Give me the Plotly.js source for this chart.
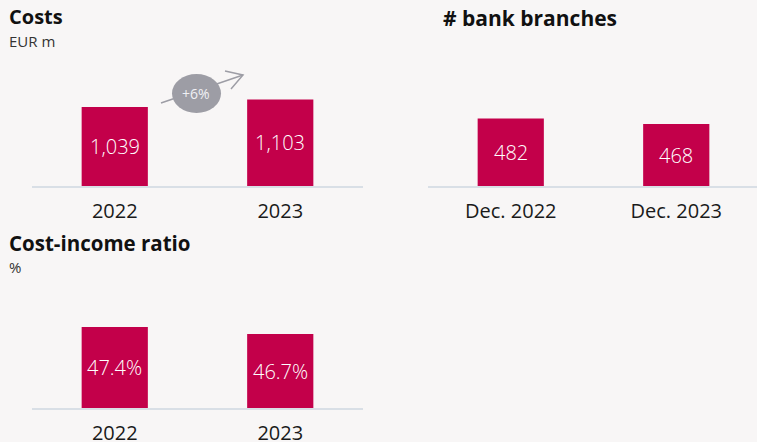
<!DOCTYPE html>
<html>
<head>
<meta charset="utf-8">
<script src="https://cdn.plot.ly/plotly-3.0.1.min.js"></script>
<style>html,body{margin:0;padding:0;background:#f8f6f6;}#chart{width:757px;height:442px;}</style>
</head>
<body>
<div id="chart"></div>
<script>
// ---- data ----
const costYears = ['2022', '2023'];
const costValues = [1039, 1103];
const costChange = '+6%';
const branchDates = ['Dec. 2022', 'Dec. 2023'];
const branchValues = [482, 468];
const cirYears = ['2022', '2023'];
const cirValues = [47.4, 46.7];

// ---- style ----
const W = 757, H = 442;
const BAR = '#c3004a';
const GREY = '#9d9da5';
const FONT = 'Open Sans, Noto Sans, sans-serif';
const px = x => x / W;
const py = y => 1 - y / H;

// axis starts (truncated value axes as in the reference)
const costRange = [365, 1440];
const branchRange = [311.5, 630];
const cirRange = [39.3, 51.1];

function barTrace(x, y, xa, ya) {
  return {type: 'bar', x: x, y: y, xaxis: xa, yaxis: ya, width: 0.4,
    marker: {color: BAR, line: {width: 0}}, textposition: 'none', hoverinfo: 'skip'};
}
const data = [
  barTrace(costYears, costValues, 'x', 'y'),
  barTrace(branchDates, branchValues, 'x2', 'y2'),
  barTrace(cirYears, cirValues, 'x3', 'y3')
];

function xAxis(domain, range, anchor) {
  return {domain: domain, range: range, anchor: anchor, type: 'category',
    showline: true, linecolor: '#d9dfe6', linewidth: 1.5, ticks: '', ticklabelstandoff: 6,
    showgrid: false, zeroline: false, fixedrange: true,
    tickfont: {family: FONT, size: 20, color: '#1a1a1a'}};
}
function yAxis(domain, range, anchor) {
  return {domain: domain, range: range, anchor: anchor, visible: false, fixedrange: true};
}

const annotations = [];
function label(text, x, y, size, bold, color) {
  annotations.push({xref: 'paper', yref: 'paper', x: px(x), y: py(y), xanchor: 'left', yanchor: 'middle',
    borderpad: 0, text: text, showarrow: false,
    font: {family: FONT, size: size, color: color || '#111', weight: bold ? 700 : 400}});
}
label('Costs', 8, 17, 20, true);
label('EUR m', 8, 41, 15, false, '#333');
label('# bank branches', 442, 18, 21, true);
label('Cost-income ratio', 8, 243, 20.5, true);
label('%', 8, 267, 15, false, '#333');

function barLabels(xs, ys, r0, xref, yref, fmt) {
  xs.forEach((c, i) => {
    annotations.push({xref: xref, yref: yref, x: i, y: (ys[i] + r0) / 2, text: fmt(ys[i]),
      xanchor: 'center', yanchor: 'middle',
      showarrow: false, font: {family: FONT, size: 20, color: '#ffffff', weight: 300}});
  });
}
barLabels(costYears, costValues, costRange[0], 'x', 'y', v => v.toLocaleString('en-US'));
barLabels(branchDates, branchValues, branchRange[0], 'x2', 'y2', v => String(v));
barLabels(cirYears, cirValues, cirRange[0], 'x3', 'y3', v => v.toFixed(1) + '%');

const shapes = [
  {type: 'line', xref: 'paper', yref: 'paper', x0: px(161), y0: py(103), x1: px(243), y1: py(75),
    line: {color: GREY, width: 1.5}, layer: 'below'},
  {type: 'path', xref: 'paper', yref: 'paper',
    path: `M ${px(225)},${py(71)} L ${px(243)},${py(75)} L ${px(231)},${py(89)}`,
    line: {color: GREY, width: 1.5}, layer: 'below'},
  {type: 'circle', xref: 'paper', yref: 'paper', x0: px(172), x1: px(221), y0: py(113), y1: py(74),
    fillcolor: GREY, line: {width: 0}, layer: 'below'}
];
annotations.push({xref: 'paper', yref: 'paper', x: px(196.5), y: py(93.5), text: costChange, showarrow: false,
  xanchor: 'center', yanchor: 'middle', font: {family: FONT, size: 14, color: '#f0f0f4'}});

const layout = {
  width: W, height: H, margin: {l: 0, r: 0, t: 0, b: 0},
  paper_bgcolor: '#f8f6f6', plot_bgcolor: 'rgba(0,0,0,0)',
  showlegend: false, font: {family: FONT},
  xaxis: xAxis([px(32), px(363)], [-0.5, 1.5], 'y'),
  yaxis: yAxis([py(186), py(60)], costRange, 'x'),
  xaxis2: xAxis([px(428), 1], [-0.5, -0.5 + 329 / 165.5], 'y2'),
  yaxis2: yAxis([py(186), py(60)], branchRange, 'x2'),
  xaxis3: xAxis([px(32), px(363)], [-0.5, 1.5], 'y3'),
  yaxis3: yAxis([py(408), py(290)], cirRange, 'x3'),
  annotations: annotations,
  shapes: shapes
};

Plotly.newPlot('chart', data, layout, {displayModeBar: false, staticPlot: true});
</script>
</body>
</html>
